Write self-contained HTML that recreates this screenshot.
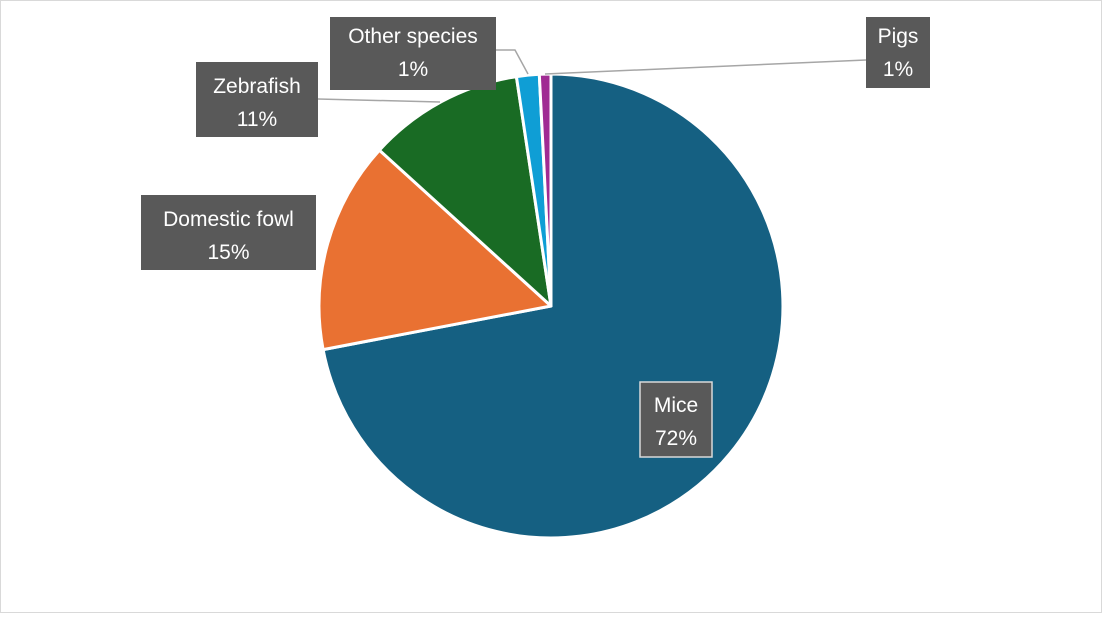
<!DOCTYPE html>
<html><head><meta charset="utf-8"><style>
html,body{margin:0;padding:0;background:#fff;}
svg text{font-family:"Liberation Sans",sans-serif;font-size:21px;fill:#fff;}
</style></head><body>
<svg width="1102" height="613" xmlns="http://www.w3.org/2000/svg">
<rect x="0.5" y="0.5" width="1101" height="612" fill="#fff" stroke="#d9d9d9"/>
<g stroke="#fff" stroke-width="3" stroke-linejoin="round">
<!-- center 551,306 r 232 -->
<path d="M551,306 L551,74 A232,232 0 1 1 323.1,349.6 Z" fill="#156082"/>
<path d="M551,306 L323.1,349.6 A232,232 0 0 1 379.4,150.2 Z" fill="#E97132"/>
<path d="M551,306 L379.4,150.2 A232,232 0 0 1 516.4,76.6 Z" fill="#196B24"/>
<path d="M551,306 L516.4,76.6 A232,232 0 0 1 539.3,74.3 Z" fill="#0F9ED5"/>
<path d="M551,306 L539.3,74.3 A232,232 0 0 1 551,74 Z" fill="#A02B93"/>
</g>
<g stroke="#a6a6a6" stroke-width="1.5" fill="none">
<polyline points="318,99 440,102"/>
<polyline points="496,50 515,50 528,74"/>
<polyline points="866,60 545,74"/>
</g>
<rect x="141" y="195" width="175" height="75" fill="#595959"/>
<text x="228.5" y="226" text-anchor="middle">Domestic fowl</text>
<text x="228.5" y="259" text-anchor="middle">15%</text>
<rect x="196" y="62" width="122" height="75" fill="#595959"/>
<text x="257" y="93" text-anchor="middle">Zebrafish</text>
<text x="257" y="126" text-anchor="middle">11%</text>
<rect x="330" y="17" width="166" height="73" fill="#595959"/>
<text x="413" y="43" text-anchor="middle">Other species</text>
<text x="413" y="76" text-anchor="middle">1%</text>
<rect x="866" y="17" width="64" height="71" fill="#595959"/>
<text x="898" y="43" text-anchor="middle">Pigs</text>
<text x="898" y="76" text-anchor="middle">1%</text>
<rect x="640" y="382" width="72" height="75" fill="#595959" stroke="#d9d9d9" stroke-width="1.5"/>
<text x="676" y="412" text-anchor="middle">Mice</text>
<text x="676" y="445" text-anchor="middle">72%</text>
</svg>
</body></html>
